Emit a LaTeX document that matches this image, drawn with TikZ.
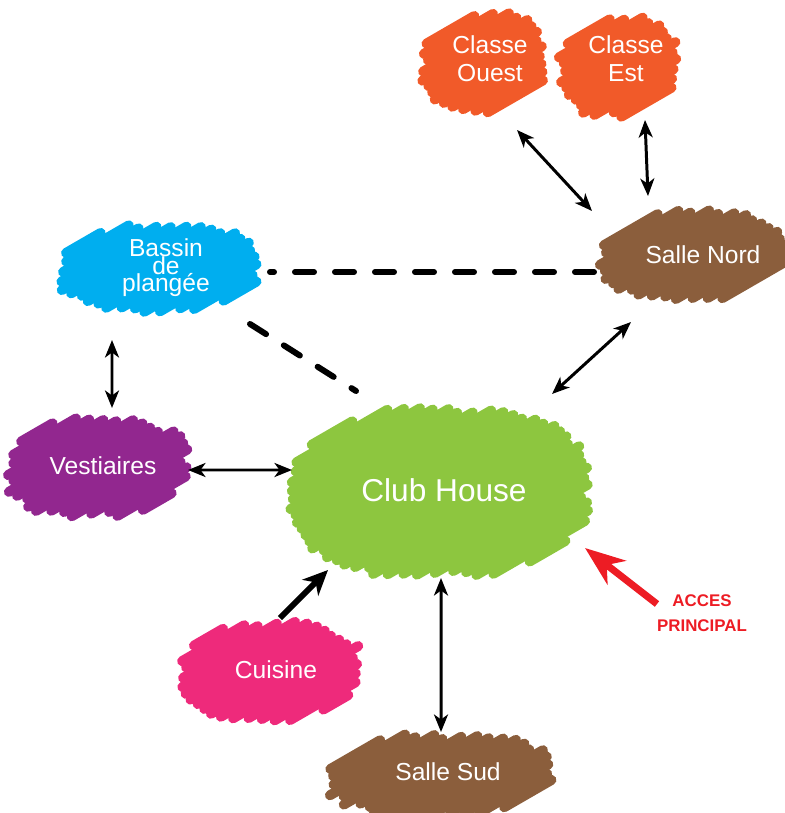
\documentclass[tikz,border=0pt]{standalone}
\usepackage{fontspec}
\setmainfont{Liberation Sans}
\usepackage{xcolor}
\usepackage{tikz}
\usetikzlibrary{arrows.meta,calc}
\definecolor{clsorange}{HTML}{F15A29}
\definecolor{salbrown}{HTML}{8B5E3C}
\definecolor{poolblue}{HTML}{00AEEF}
\definecolor{vestpurple}{HTML}{92278F}
\definecolor{clubgreen}{HTML}{8DC63F}
\definecolor{cuispink}{HTML}{EE2A7B}
\definecolor{accred}{HTML}{ED1C24}
\newcommand{\tightlines}{\lineskiplimit=-20pt\relax}
\tikzset{
  lbl/.style={text=white, font=\fontsize{14}{16}\selectfont, align=center, inner sep=0pt},
  link/.style={{Stealth[length=3.5mm,width=2.8mm,inset=1mm]}-{Stealth[length=3.5mm,width=2.8mm,inset=1mm]},
               line width=1.7pt},
  feed/.style={-{Stealth[length=5mm,width=4.5mm,inset=1.5mm]}, line width=3.3pt},
  access/.style={-{Stealth[length=8mm,width=6mm,inset=2.5mm]}, line width=4pt, draw=accred},
  dashlink/.style={line width=3.4pt, line cap=round, dash pattern=on 0.38cm off 0.42cm}
}
% scribbled blob: centre x, centre y, half width, half height, colour
\newcommand{\scribble}[5]{%
  \pgfmathsetmacro{\scR}{#3*0.5+#4*0.866}
  \pgfmathsetmacro{\scN}{int(\scR/0.15)}
  \foreach \k in {-\scN,...,\scN}{
    \pgfmathsetmacro{\scT}{(\k)*0.15}
    \pgfmathsetmacro{\scA}{0.75/(1.1664*#3*#3)+0.25/(1.1664*#4*#4)}
    \pgfmathsetmacro{\scB}{2*(\scT)*0.433*(1/(1.1664*#4*#4)-1/(1.1664*#3*#3))}
    \pgfmathsetmacro{\scC}{(\scT)*(\scT)*(0.25/(1.1664*#3*#3)+0.75/(1.1664*#4*#4))-1}
    \pgfmathsetmacro{\scD}{sqrt(max((\scB)*(\scB)-4*(\scA)*(\scC),0))}
    \pgfmathsetmacro{\scU}{max(((-1)*(\scB)-(\scD))/(2*\scA),(0.5*(\scT)-#3)/0.866,((-1)*#4-0.866*(\scT))/0.5)}
    \pgfmathsetmacro{\scV}{min(((-1)*(\scB)+(\scD))/(2*\scA),(0.5*(\scT)+#3)/0.866,(#4-0.866*(\scT))/0.5)}
    \pgfmathsetmacro{\scL}{(\scV)-(\scU)}
    \ifdim\scL pt>0.02pt
      \pgfmathsetmacro{\scU}{(\scU)-0.2*rnd}
      \pgfmathsetmacro{\scV}{(\scV)+0.2*rnd}
      \draw[#5, line width=0.2cm, line cap=round]
        ({#1-0.5*(\scT)+0.866*(\scU)},{#2+0.866*(\scT)+0.5*(\scU)}) --
        ({#1-0.5*(\scT)+0.866*(\scV)},{#2+0.866*(\scT)+0.5*(\scV)});
    \fi
  }%
}

\begin{document}
\begin{tikzpicture}
  \useasboundingbox (0,0) rectangle (15.68,-16.26);
  \pgfmathsetseed{11}
  \scribble{9.66}{-1.26}{1.07}{0.92}{clsorange}
  \scribble{12.38}{-1.32}{1.05}{0.92}{clsorange}
  \scribble{13.84}{-5.1}{1.72}{0.8}{salbrown}
  \scribble{3.2}{-5.36}{1.82}{0.79}{poolblue}
  \scribble{1.94}{-9.34}{1.64}{0.9}{vestpurple}
  \scribble{8.8}{-9.84}{2.82}{1.58}{clubgreen}
  \scribble{5.4}{-13.42}{1.64}{0.89}{cuispink}
  \scribble{8.8}{-15.5}{2.12}{0.72}{salbrown}

  \node[lbl, font=\fontsize{14}{16}\selectfont] (couest) at (9.8,-1.18) {Classe\\Ouest};
  \node[lbl, font=\fontsize{14}{16}\selectfont] (cest) at (12.52,-1.18) {Classe\\Est};
  \node[lbl] (snord) at (14.06,-5.1) {Salle Nord};
  \node[lbl, font=\fontsize{14}{10}\selectfont\tightlines] (bassin) at (3.32,-5.36) {Bassin\\de\\plangée};
  \node[lbl] (vest) at (2.06,-9.32) {Vestiaires};
  \node[lbl, font=\fontsize{18}{20}\selectfont] (club) at (8.88,-9.8) {Club House};
  \node[lbl] (cuis) at (5.52,-13.4) {Cuisine};
  \node[lbl] (ssud) at (8.96,-15.44) {Salle Sud};
  \node[text=accred, font=\fontsize{9.6}{14}\selectfont\bfseries, align=center] (acces)
    at (14.04,-12.26) {ACCES\\PRINCIPAL};

  \draw[link] ([shift={(0.54,-1.42)}]couest.center) -- ([shift={(-2.22,0.88)}]snord.center);
  \draw[link] ([shift={(0.38,-1.22)}]cest.center) -- ([shift={(-1.1,1.18)}]snord.center);
  \draw[link] ([shift={(-1.44,-1.34)}]snord.center) -- ([shift={(2.16,1.92)}]club.center);
  \draw[dashlink] ([shift={(-2.18,-0.34)}]snord.center) -- ([shift={(2.08,-0.08)}]bassin.center);
  \draw[dashlink] ([shift={(1.68,-1.12)}]bassin.center) -- ([shift={(-1.76,1.98)}]club.center);
  \draw[link] ([shift={(-1.08,-1.44)}]bassin.center) -- ([shift={(0.18,1.16)}]vest.center);
  \draw[link] ([shift={(1.7,-0.08)}]vest.center) -- ([shift={(-3.04,0.4)}]club.center);
  \draw[feed] ([shift={(0.08,1.04)}]cuis.center) -- ([shift={(-2.32,-1.6)}]club.center);
  \draw[link] ([shift={(-0.06,-1.76)}]club.center) -- ([shift={(-0.14,0.8)}]ssud.center);
  \draw[access] ([shift={(-0.9,0.18)}]acces.center) -- ([shift={(2.82,-1.16)}]club.center);
\end{tikzpicture}
\end{document}
